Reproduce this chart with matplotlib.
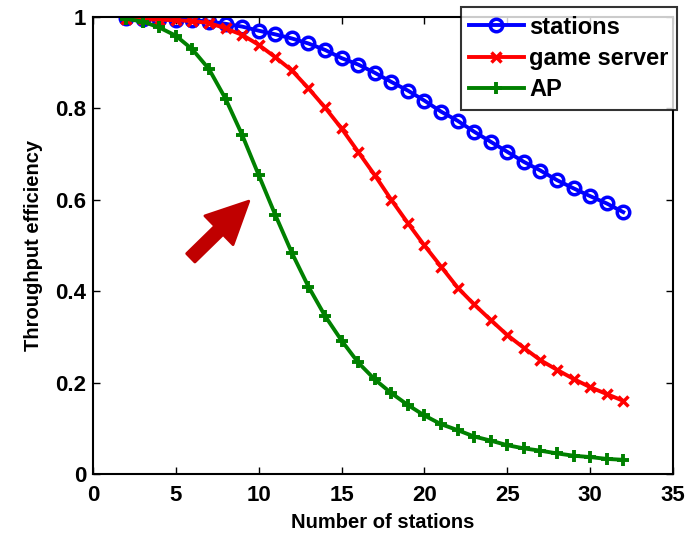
import matplotlib
matplotlib.use("Agg")
import matplotlib.pyplot as plt

plt.rcParams['font.family'] = ['Liberation Sans', 'DejaVu Sans']
plt.rcParams['font.weight'] = 'bold'

n_stations = list(range(2, 33))

stations = [0.997, 0.996, 0.995, 0.994, 0.993, 0.990, 0.985, 0.979, 0.970, 0.962,
            0.953, 0.942, 0.928, 0.910, 0.896, 0.878, 0.858, 0.839, 0.817, 0.793,
            0.773, 0.749, 0.727, 0.705, 0.683, 0.664, 0.643, 0.625, 0.608, 0.592,
            0.573]
game_server = [0.996, 0.995, 0.994, 0.993, 0.991, 0.987, 0.975, 0.961, 0.939, 0.912,
               0.883, 0.844, 0.802, 0.756, 0.705, 0.654, 0.600, 0.549, 0.500, 0.454,
               0.408, 0.371, 0.337, 0.304, 0.276, 0.249, 0.228, 0.208, 0.190, 0.175,
               0.160]
ap = [0.996, 0.990, 0.977, 0.959, 0.929, 0.886, 0.821, 0.742, 0.654, 0.567,
      0.484, 0.410, 0.346, 0.292, 0.244, 0.207, 0.177, 0.151, 0.128, 0.109,
      0.096, 0.082, 0.073, 0.063, 0.056, 0.051, 0.045, 0.040, 0.037, 0.033,
      0.031]

fig = plt.figure(figsize=(6.93, 5.34), dpi=100)
ax = fig.add_axes([0.1342, 0.1124, 0.8369, 0.8558])

ax.plot(n_stations, stations, color='#0000FF', lw=2.8, marker='o', ms=9,
        mfc='none', mec='#0000FF', mew=2.5, label='stations')
ax.plot(n_stations, game_server, color='#FF0000', lw=2.8, marker='x', ms=7,
        mew=2.5, label='game server')
ax.plot(n_stations, ap, color='#008000', lw=2.8, marker='+', ms=9,
        mew=2.8, label='AP')

# arrow pointing at the AP curve
ax.annotate('', xy=(9.4, 0.597), xytext=(5.9, 0.473),
            arrowprops=dict(arrowstyle='simple,head_length=3.0,head_width=2.9,tail_width=0.85',
                            mutation_scale=10, fc='#C00000', ec='#C00000', lw=2,
                            joinstyle='round', shrinkA=0, shrinkB=0))

ax.set_xlim(0, 35)
ax.set_ylim(0, 1)
ax.set_xticks(range(0, 36, 5))
ax.set_yticks([0, 0.2, 0.4, 0.6, 0.8, 1])
ax.set_yticklabels(['0', '0.2', '0.4', '0.6', '0.8', '1'])
ax.tick_params(direction='in', top=True, right=True, length=5, width=1,
               labelsize=16)
ax.tick_params(axis='x', pad=8)
ax.tick_params(axis='y', pad=5)
for s in ax.spines.values():
    s.set_linewidth(1.5)

ax.set_xlabel('Number of stations', fontsize=14.5, fontweight='bold', labelpad=5)
ax.set_ylabel('Throughput efficiency', fontsize=14.5, fontweight='bold', labelpad=9)

leg = ax.legend(loc='upper right', bbox_to_anchor=(0.977, 0.986),
                bbox_transform=fig.transFigure, fontsize=17, frameon=True,
                fancybox=False, handlelength=2.3, borderpad=0.35,
                labelspacing=0.35, handletextpad=0.25, borderaxespad=0)
leg.get_frame().set_edgecolor('black')
leg.get_frame().set_linewidth(1.5)
for t in leg.get_texts():
    t.set_fontweight('bold')

fig.savefig('out.png', dpi=100)
